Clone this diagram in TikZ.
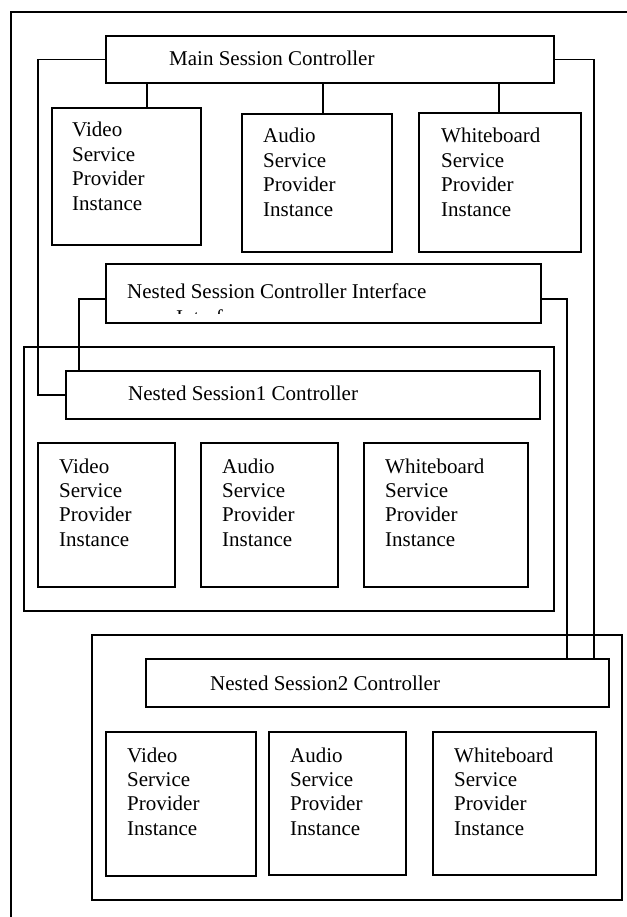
\documentclass[tikz,border=0pt]{standalone}
\usepackage{fontspec}
\setmainfont{Liberation Serif}
% four stacked lines whose baseline is that of the first line
\newcommand{\fourlines}[4]{\vtop{\hbox{#1}\hbox{#2}\hbox{#3}\hbox{#4}}}
% rectangle node from its top-left (x1,y1) to bottom-right (x2,y2)
\newcommand{\mkbox}[5]{\node[box, minimum width={#4-#2}, minimum height={#5-#3}] (#1) at (#2,#3) {};}
\begin{document}
\begin{tikzpicture}[x=1pt,y=-1pt,
  box/.style={draw, line width=1.3pt, inner sep=0pt, outer sep=0pt, anchor=north west},
  lbl/.style={inner sep=0pt, anchor=base west, font=\fontsize{21}{24.4}\selectfont},
  wire/.style={line width=1.3pt}]
\useasboundingbox (0,0) rectangle (626,917);

% outer frame (runs past the right and bottom edges)
\draw[wire] (640,12) -- (11,12) -- (11,930);

% main session
\mkbox{main}{106}{36}{554}{83}
\node[lbl] (maint) at (169,65.7) {Main Session Controller};
\mkbox{mv}{52}{108}{201}{245}
\mkbox{ma}{242}{114}{392}{252}
\mkbox{mw}{419}{113}{581}{252}
\node[lbl] (mvt) at (72,137) {\fourlines{Video}{Service}{Provider}{Instance}};
\node[lbl] (mat) at (263,143) {\fourlines{Audio}{Service}{Provider}{Instance}};
\node[lbl] (mwt) at (441,143) {\fourlines{Whiteboard}{Service}{Provider}{Instance}};

% nested session controller interface
\mkbox{iface}{106}{264}{541}{323}
\node[lbl] (ifacet) at (127,298) {Nested Session Controller Interface};
\begin{scope}
  \clip (106,300) rectangle (541,313.5);
  \node[lbl] (ifacex) at (176,324.2) {Interface};
\end{scope}

% nested session 1
\mkbox{n1}{24}{347}{554}{611}
\mkbox{n1c}{66}{371}{540}{419}
\node[lbl] (n1ct) at (128,400.7) {Nested Session1 Controller};
\mkbox{n1v}{38}{443}{175}{587}
\mkbox{n1a}{201}{443}{338}{587}
\mkbox{n1w}{364}{443}{528}{587}
\node[lbl] (n1vt) at (59,473) {\fourlines{Video}{Service}{Provider}{Instance}};
\node[lbl] (n1at) at (222,473) {\fourlines{Audio}{Service}{Provider}{Instance}};
\node[lbl] (n1wt) at (385,473) {\fourlines{Whiteboard}{Service}{Provider}{Instance}};

% nested session 2
\mkbox{n2}{92}{635}{622}{900}
\mkbox{n2c}{146}{659}{609}{707}
\node[lbl] (n2ct) at (210,690) {Nested Session2 Controller};
\mkbox{n2v}{106}{732}{256}{876}
\mkbox{n2a}{269}{732}{406}{875}
\mkbox{n2w}{433}{732}{596}{875}
\node[lbl] (n2vt) at (127,762) {\fourlines{Video}{Service}{Provider}{Instance}};
\node[lbl] (n2at) at (290,762) {\fourlines{Audio}{Service}{Provider}{Instance}};
\node[lbl] (n2wt) at (454,762) {\fourlines{Whiteboard}{Service}{Provider}{Instance}};

% routing columns
\coordinate (lx) at (38,0);
\coordinate (rx) at (594,0);
\coordinate (ix) at (567,0);
\coordinate (jx) at (79,0);
\coordinate (c1) at (147,0);
\coordinate (c2) at (323,0);
\coordinate (c3) at (499,0);

% main controller to its providers
\draw[wire] (main.south -| c1) -- (mv.north -| c1);
\draw[wire] (main.south -| c2) -- (ma.north -| c2);
\draw[wire] (main.south -| c3) -- (mw.north -| c3);

% main controller to the nested controllers
\draw[wire] (main.west) -- (main.west -| lx) |- (n1c.west);
\draw[wire] (main.east) -| (rx |- n2c.north);

% interface to the nested controllers
\draw[wire] ([yshift=-5.5pt]iface.west) -| (jx |- n1c.north);
\draw[wire] ([yshift=-5.5pt]iface.east) -| (ix |- n2c.north);
\end{tikzpicture}
\end{document}
